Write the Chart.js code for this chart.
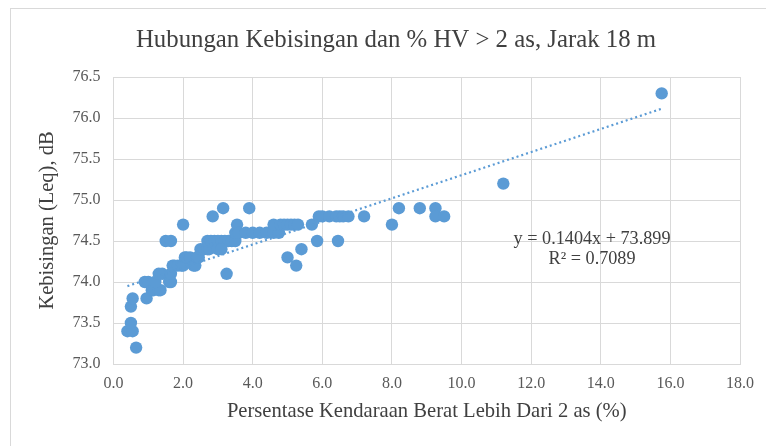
<!DOCTYPE html>
<html>
<head>
<meta charset="utf-8">
<script src="https://cdn.jsdelivr.net/npm/chart.js@4.4.1/dist/chart.umd.min.js"></script>
<style>
  html, body { margin: 0; padding: 0; background: #fff; }
  #wrap { position: relative; width: 766px; height: 446px; overflow: hidden; }
  #frame { position: absolute; left: 10px; top: 8px; width: 800px; height: 500px;
           border-top: 1px solid #d9d9d9; border-left: 1px solid #d9d9d9; }
  #chart { position: absolute; left: 0; top: 0; }
</style>
</head>
<body>
<div id="wrap">
  <div id="frame"></div>
  <canvas id="chart" width="766" height="446"></canvas>
</div>
<script>
// % heavy vehicles (> 2 axles) vs noise level Leq
const hvPercent = [
  0.65, 0.4, 0.55, 0.5, 0.5, 0.55,
  0.95, 0.9, 1.0, 1.1, 1.15, 1.3, 1.35, 1.2, 1.4, 1.3, 1.6, 1.65,
  1.7, 1.75, 1.65, 1.5, 1.65, 2.0,
  1.85, 1.95, 2.0, 2.05, 2.1, 2.2, 2.3, 2.35, 2.4, 2.45,
  2.5, 2.6, 2.7, 2.75,
  2.7, 2.8, 2.9, 3.0, 3.1, 3.2, 3.3, 3.4, 3.5, 3.0, 3.1,
  2.85, 3.15, 3.9, 3.25, 3.5, 3.55,
  3.6, 3.8, 4.0, 4.2, 4.4, 4.6, 4.75,
  4.6, 4.8, 4.9, 5.0, 5.1, 5.2, 5.3,
  5.0, 5.25, 5.4, 5.7, 5.85,
  5.9, 6.0, 6.2, 6.4, 6.5, 6.6, 6.75, 6.45, 7.2,
  8.0, 8.2, 8.8, 9.25, 9.25, 9.5, 11.2, 15.75
];
const leqDb = [
  73.2, 73.4, 73.4, 73.5, 73.7, 73.8,
  73.8, 74.0, 74.0, 73.9, 73.9, 73.9, 73.9, 74.0, 74.1, 74.1, 74.0, 74.0,
  74.2, 74.2, 74.1, 74.5, 74.5, 74.7,
  74.2, 74.2, 74.2, 74.3, 74.3, 74.3, 74.2, 74.2, 74.3, 74.3,
  74.4, 74.4, 74.4, 74.4,
  74.5, 74.5, 74.5, 74.5, 74.5, 74.5, 74.5, 74.5, 74.5, 74.4, 74.4,
  74.8, 74.9, 74.9, 74.1, 74.6, 74.7,
  74.6, 74.6, 74.6, 74.6, 74.6, 74.6, 74.6,
  74.7, 74.7, 74.7, 74.7, 74.7, 74.7, 74.7,
  74.3, 74.2, 74.4, 74.7, 74.5,
  74.8, 74.8, 74.8, 74.8, 74.8, 74.8, 74.8, 74.5, 74.8,
  74.7, 74.9, 74.9, 74.9, 74.8, 74.8, 75.2, 76.3
];

// linear trendline (Excel), endpoints
const trendX = [0.4, 15.8];
const trendY = [73.95, 76.12];
const trendText = ["y = 0.1404x + 73.899", "R\u00B2 = 0.7089"];
const chartTitle = "Hubungan Kebisingan dan % HV > 2 as, Jarak 18 m";

const xTicks = [0, 2, 4, 6, 8, 10, 12, 14, 16, 18];
const yTicks = [73.0, 73.5, 74.0, 74.5, 75.0, 75.5, 76.0, 76.5];

const blue = "#5b9bd5";
const gridCol = "#d9d9d9";
const serif = "'Liberation Serif', 'Times New Roman', serif";

const points = hvPercent.map((x, i) => ({ x: x, y: leqDb[i] }));
const trend = trendX.map((x, i) => ({ x: x, y: trendY[i] }));

// title sits a bit right of centre in the original, so draw it ourselves
const topTitle = {
  id: "topTitle",
  afterDraw(chart) {
    const c = chart.ctx;
    c.save();
    c.font = "24.8px " + serif;
    c.fillStyle = "#404040";
    c.textAlign = "center";
    c.textBaseline = "middle";
    c.fillText(chartTitle, 396, 40);
    c.restore();
  }
};

// equation label drawn in data space
const eqLabel = {
  id: "eqLabel",
  afterDatasetsDraw(chart) {
    const c = chart.ctx;
    const xs = chart.scales.x, ys = chart.scales.y;
    c.save();
    c.font = "18.2px " + serif;
    c.fillStyle = "#404040";
    c.textAlign = "center";
    c.textBaseline = "middle";
    c.fillText(trendText[0], xs.getPixelForValue(13.75), ys.getPixelForValue(74.52));
    c.fillText(trendText[1], xs.getPixelForValue(13.75), ys.getPixelForValue(74.28));
    c.restore();
  }
};

new Chart(document.getElementById("chart").getContext("2d"), {
  type: "scatter",
  data: {
    datasets: [
      {
        label: "Trend",
        data: trend,
        showLine: true,
        borderColor: blue,
        borderWidth: 2.2,
        borderDash: [2, 3],
        pointRadius: 0,
        fill: false
      },
      {
        label: "Leq",
        data: points,
        backgroundColor: blue,
        borderColor: blue,
        borderWidth: 0,
        pointRadius: 6.2,
        pointHoverRadius: 6.2
      }
    ]
  },
  options: {
    responsive: false,
    animation: false,
    devicePixelRatio: 1,
    layout: { padding: { left: 0, right: 26, top: 77, bottom: 0 } },
    plugins: {
      legend: { display: false },
      tooltip: { enabled: false },
      title: { display: false }
    },
    scales: {
      x: {
        type: "linear",
        min: 0,
        max: 18,
        afterBuildTicks: (s) => { s.ticks = xTicks.map(v => ({ value: v })); },
        afterFit: (s) => { s.height = 82; },
        ticks: {
          padding: 10,
          color: "#595959",
          font: { family: serif, size: 16 },
          callback: (v) => Number(v).toFixed(1)
        },
        grid: { color: gridCol, drawTicks: false, lineWidth: 1 },
        border: { color: gridCol },
        title: {
          display: true,
          text: "Persentase Kendaraan Berat Lebih Dari 2 as (%)",
          color: "#404040",
          font: { family: serif, size: 20.6 },
          padding: { top: 4, bottom: 22 }
        }
      },
      y: {
        min: 73,
        max: 76.5,
        afterBuildTicks: (s) => { s.ticks = yTicks.map(v => ({ value: v })); },
        afterFit: (s) => { s.width = 113.5; },
        ticks: {
          padding: 13,
          color: "#595959",
          font: { family: serif, size: 16 },
          callback: (v) => Number(v).toFixed(1)
        },
        grid: { color: gridCol, drawTicks: false, lineWidth: 1 },
        border: { color: gridCol },
        title: {
          display: true,
          text: "Kebisingan (Leq), dB",
          color: "#404040",
          font: { family: serif, size: 20.5 },
          padding: { top: 35, bottom: 0 }
        }
      }
    }
  },
  plugins: [eqLabel, topTitle]
});
</script>
</body>
</html>
